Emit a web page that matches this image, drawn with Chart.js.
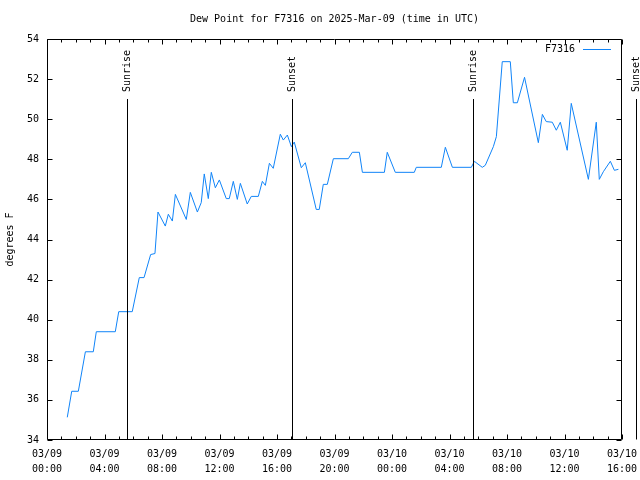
<!DOCTYPE html>
<html>
<head>
<meta charset="utf-8">
<script src="https://cdn.jsdelivr.net/npm/chart.js@4/dist/chart.umd.min.js"></script>
<style>
  html, body { margin: 0; padding: 0; background: #fff; }
  canvas { display: block; }
</style>
</head>
<body>
<canvas id="chart" width="640" height="480"></canvas>
<script>
// hours since 2025-03-09 00:00 UTC
const hours = [
  1.41, 1.72, 2.18, 2.67, 3.22, 3.43, 4.75, 4.99, 5.93, 6.42, 6.75, 7.21, 7.51, 7.72,
  8.23, 8.44, 8.72, 8.93, 9.69, 9.97, 10.46, 10.73, 10.94, 11.22, 11.43, 11.71, 11.99,
  12.47, 12.68, 12.96, 13.24, 13.45, 13.93, 14.21, 14.70, 14.98, 15.19, 15.47, 15.74,
  16.23, 16.44, 16.72, 17.00, 17.20, 17.69, 17.97, 18.73, 18.94, 19.22, 19.50, 19.92,
  20.96, 21.24, 21.73, 21.94, 23.47, 23.67, 24.23, 25.55, 25.69, 27.43, 27.71, 28.20,
  29.52, 29.73, 30.28, 30.49, 31.05, 31.26, 31.67, 32.23, 32.44, 32.72, 33.22, 34.18,
  34.46, 34.73, 35.15, 35.43, 35.71, 36.19, 36.47, 37.66, 38.21, 38.42, 38.70, 39.19,
  39.47, 39.75
];
const dewPoint = [
  35.13, 36.43, 36.43, 38.40, 38.40, 39.40, 39.40, 40.40, 40.40, 42.10, 42.10, 43.25, 43.30, 45.37,
  44.67, 45.26, 44.92, 46.25, 45.00, 46.35, 45.37, 45.84, 47.27, 46.04, 47.35, 46.58, 46.97,
  46.04, 46.04, 46.90, 46.00, 46.80, 45.77, 46.15, 46.15, 46.90, 46.70, 47.80, 47.55,
  49.25, 48.96, 49.21, 48.63, 48.86, 47.58, 47.83, 45.50, 45.50, 46.75, 46.75, 48.03,
  48.03, 48.35, 48.35, 47.35, 47.35, 48.35, 47.35, 47.35, 47.60, 47.60, 48.60, 47.60,
  47.60, 47.90, 47.60, 47.70, 48.63, 49.13, 52.87, 52.87, 50.82, 50.82, 52.09, 48.83,
  50.24, 49.88, 49.85, 49.45, 49.85, 48.45, 50.79, 47.00, 49.85, 47.00, 47.38, 47.90,
  47.45, 47.50
];

const eventLabels = ['Sunrise', 'Sunset', 'Sunrise', 'Sunset'];
const eventHours = [5.59, 17.06, 29.61, 40.97];

const xTickLabels = [
  ['03/09', '00:00'], ['03/09', '04:00'], ['03/09', '08:00'], ['03/09', '12:00'],
  ['03/09', '16:00'], ['03/09', '20:00'], ['03/10', '00:00'], ['03/10', '04:00'],
  ['03/10', '08:00'], ['03/10', '12:00'], ['03/10', '16:00']
];

const seriesName = 'F7316';
const titleText = 'Dew Point for F7316 on 2025-Mar-09 (time in UTC)';
const yAxisLabel = 'degrees F';
const lineColor = 'rgb(16,132,248)';
const monoFont = '"DejaVu Sans Mono", "Liberation Mono", monospace';

Chart.defaults.font.family = monoFont;
Chart.defaults.font.size = 10;
Chart.defaults.color = '#000';

// gnuplot-ish frame, inward ticks, sun lines, title and legend
const gnuFrame = {
  id: 'gnuFrame',
  afterDraw(chart) {
    const ctx = chart.ctx;
    const a = chart.chartArea;
    const xs = chart.scales.x;
    const ys = chart.scales.y;
    const L = Math.round(a.left) + 0.5, R = Math.round(a.right) - 0.5;
    const T = Math.round(a.top) + 0.5, B = Math.round(a.bottom) - 0.5;

    ctx.save();
    ctx.strokeStyle = '#000';
    ctx.lineWidth = 1;
    ctx.beginPath();
    ctx.rect(L, T, R - L, B - T);

    // x ticks every hour, bigger every 4h
    for (let h = 0; h <= 40; h++) {
      const px = Math.round(xs.getPixelForValue(h)) + 0.5;
      const len = h % 4 === 0 ? 5 : 3;
      ctx.moveTo(px, B); ctx.lineTo(px, B - len);
      ctx.moveTo(px, T); ctx.lineTo(px, T + len);
    }
    for (let v = 34; v <= 54; v += 2) {
      const py = Math.round(ys.getPixelForValue(v)) + 0.5;
      ctx.moveTo(L, py); ctx.lineTo(L + 5, py);
      ctx.moveTo(R, py); ctx.lineTo(R - 5, py);
    }
    ctx.stroke();

    // sunrise / sunset markers
    ctx.font = '10px ' + monoFont;
    ctx.fillStyle = '#000';
    eventHours.forEach((h, i) => {
      const px = Math.round(xs.getPixelForValue(h)) + 0.5;
      ctx.beginPath();
      ctx.moveTo(px, 99);
      ctx.lineTo(px, B);
      ctx.stroke();
      ctx.save();
      ctx.translate(px, 92);
      ctx.rotate(-Math.PI / 2);
      ctx.textAlign = 'left';
      ctx.textBaseline = 'middle';
      ctx.fillText(eventLabels[i], 0, 0);
      ctx.restore();
    });

    // title
    ctx.textAlign = 'center';
    ctx.textBaseline = 'middle';
    ctx.fillText(titleText, (a.left + a.right) / 2, 19);

    // y axis label
    ctx.save();
    ctx.translate(10, (a.top + a.bottom) / 2);
    ctx.rotate(-Math.PI / 2);
    ctx.fillText(yAxisLabel, 0, 0);
    ctx.restore();

    // legend
    ctx.textAlign = 'right';
    ctx.fillText(seriesName, 575, 49);
    ctx.strokeStyle = lineColor;
    ctx.beginPath();
    ctx.moveTo(583, 49.5);
    ctx.lineTo(611, 49.5);
    ctx.stroke();
    ctx.restore();
  }
};

new Chart(document.getElementById('chart'), {
  type: 'line',
  data: {
    datasets: [{
      label: seriesName,
      data: hours.map((h, i) => ({ x: h, y: dewPoint[i] })),
      borderColor: lineColor,
      borderWidth: 1,
      pointRadius: 0,
      tension: 0,
      fill: false
    }]
  },
  options: {
    responsive: false,
    animation: false,
    layout: { padding: { top: 39, right: 18, bottom: 0, left: 0 } },
    plugins: {
      legend: { display: false },
      title: { display: false },
      tooltip: { enabled: false }
    },
    scales: {
      x: {
        type: 'linear',
        min: 0,
        max: 40,
        grid: { display: false, drawTicks: false },
        border: { display: false },
        ticks: {
          stepSize: 4,
          maxRotation: 0,
          autoSkip: false,
          padding: 7,
          font: { size: 10, lineHeight: 1.5 },
          callback: (v) => xTickLabels[Math.round(v / 4)]
        },
        afterFit: (scale) => {
          scale.height = 40;
          scale.paddingLeft = 0;
          scale.paddingRight = 0;
        }
      },
      y: {
        min: 34,
        max: 54,
        grid: { display: false, drawTicks: false },
        border: { display: false },
        ticks: { stepSize: 2, padding: 8, font: { size: 10 } },
        afterFit: (scale) => {
          scale.width = 47;
          scale.paddingTop = 0;
          scale.paddingBottom = 0;
        }
      }
    }
  },
  plugins: [gnuFrame]
});
</script>
</body>
</html>
